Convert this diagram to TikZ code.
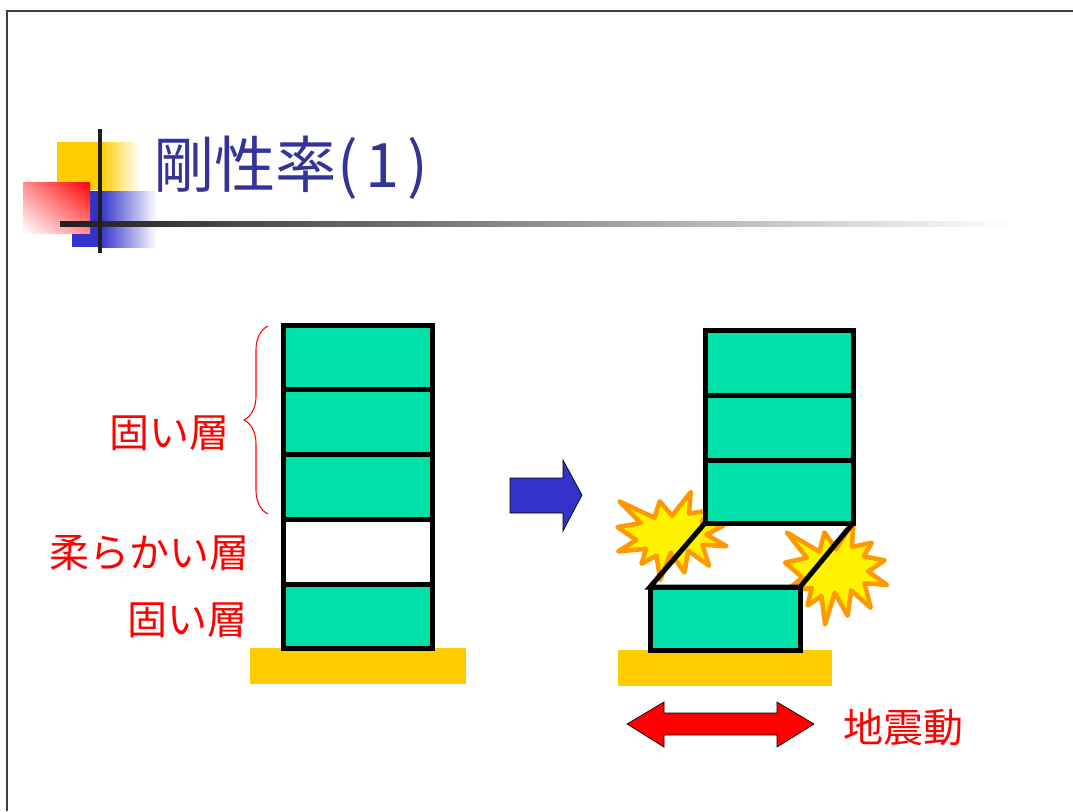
\documentclass[tikz,border=0pt]{standalone}
\usepackage{fontspec}
\setmainfont{Noto Sans CJK JP}
\usetikzlibrary{decorations.pathreplacing,shadings}
\newcommand\drawburst[4]{%
\begin{scope}[shift = {(#1,#2)}, xscale = #3/100, yscale = #4/100]
\draw [fill = yellow, draw = burstorange, line width = 3.4pt, line join = round]
  (0,-23.15) -- (17.23,-50) -- (15.53,-25.35) -- (35.09,-29.37) -- (27.32,-16.13)
  -- (47.67,-12.33) -- (31.51,-1.5) -- (50,11.53) -- (27.95,9.92) -- (34,33.77)
  -- (14.91,16.93) -- (11.33,41.38) -- (-1.24,19.14) -- (-10.72,50) -- (-14.28,22.35)
  -- (-27.95,31.56) -- (-23.76,14.52) -- (-49.37,17.53) -- (-32.77,4.51) -- (-50,-10.12)
  -- (-28.58,-14.74) -- (-48.29,-39.37) -- (-16.15,-20.74) -- (-11.33,-39.37) -- cycle;
\end{scope}}
\begin{document}
\begin{tikzpicture}[x = 0.75pt, y = -0.75pt,
  storey/.style = {fill = floorgreen, draw = black, line width = 3.75pt},
  layertext/.style = {text = red, inner sep = 0pt, font = \fontsize{30pt}{30pt}\selectfont},
  flatarrow/.style = {draw = black, line width = 0.5pt}]
\definecolor{floorgreen}{HTML}{00E0A8}
\definecolor{groundyellow}{HTML}{FFCC00}
\definecolor{titleblue}{HTML}{333399}
\definecolor{arrowblue}{HTML}{3333CC}
\definecolor{burstorange}{HTML}{FF9900}
\definecolor{rulegray}{HTML}{404040}
\useasboundingbox (0,0) rectangle (1073,811);
\draw [draw = rulegray, line width = 0.9pt] (7,811) -- (7,11) -- (1073,11);
% title mark
\fill [groundyellow] (57,142) rectangle (100,190);
\shade [left color = groundyellow, right color = white] (100,142) rectangle (140,190);
\fill [arrowblue] (72,191) rectangle (100,247);
\shade [left color = arrowblue, right color = white] (100,191) rectangle (157,247);
\shade [upper right = red, lower left = white, upper left = red!45!white, lower right = red!45!white] (23,182) rectangle (90,233);
\shade [left color = black!88, middle color = black!30, right color = white] (60,221) rectangle (1013,226);
\fill [black!88] (98,129) rectangle (102,253);
\node (title) [anchor = west, inner sep = 0pt, text = titleblue, font = \fontsize{46pt}{46pt}\selectfont] at (153,168) {剛性率(\kern6pt1\kern6pt)};
% left building
\fill [groundyellow] (250,648) rectangle (466,684);
\foreach \top/\bot/\col in {325/389/floorgreen, 389/454/floorgreen, 454/519/floorgreen, 519/584/white, 584/648/floorgreen}
  \draw [storey, fill = \col] (283,\top) rectangle (432,\bot);
\draw [draw = red, line width = 0.8pt, decorate, decoration = {brace, amplitude = 18}] (268,514) -- (268,326);
\node (hardtop) [layertext, anchor = east] at (230,433) {固い層};
\node (soft) [layertext, anchor = east] at (250,553) {柔らかい層};
\node (hardbottom) [layertext, anchor = east] at (248,620) {固い層};
% arrow between
\draw [flatarrow, fill = arrowblue] (510,478) -- (563,478) -- (563,460) -- (582,495) -- (563,531) -- (563,513) -- (510,513) -- cycle;
% right building
\drawburst{672}{536}{109}{88}
\drawburst{836}{573}{102}{103}
\fill [groundyellow] (618,650) rectangle (832,686);
\foreach \top/\bot in {330/395, 395/460, 460/523}
  \draw [storey] (705,\top) rectangle (853,\bot);
\draw [storey] (650,587) rectangle (800,650);
\draw [draw = black, line width = 3.75pt, line join = miter] (705,523) -- (650,587) -- (800,587) -- (853,523);
% ground motion
\draw [flatarrow, fill = red] (627,724) -- (664,702) -- (664,713) -- (777,713) -- (777,702) -- (814,724) -- (777,747) -- (777,735) -- (664,735) -- (664,747) -- cycle;
\node (quake) [layertext, anchor = west] at (843,727) {地震動};
\end{tikzpicture}
\end{document}
